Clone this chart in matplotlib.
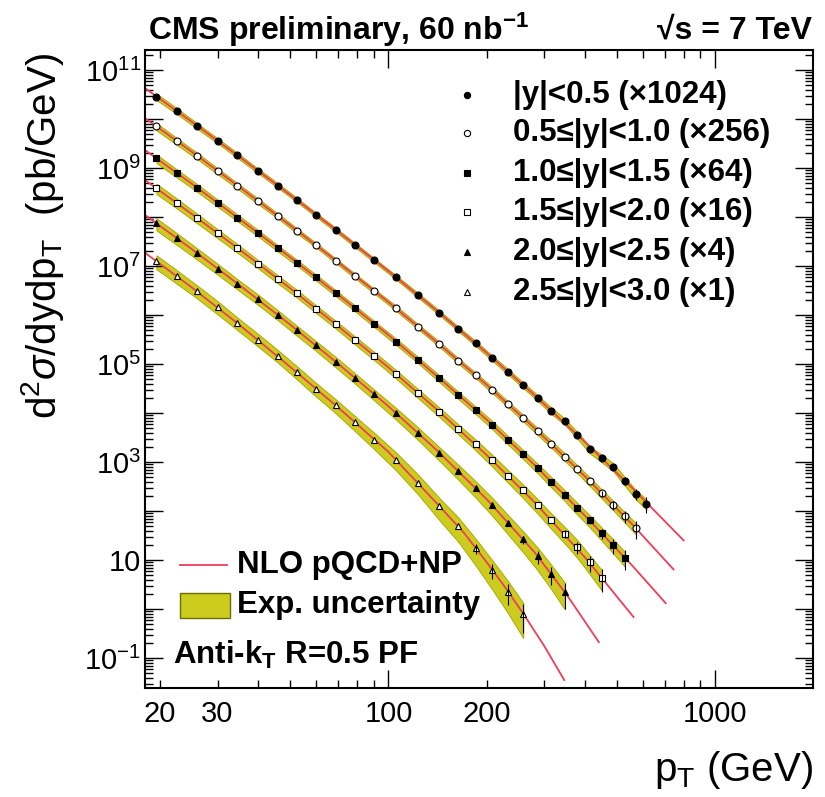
import numpy as np
import matplotlib.pyplot as plt
from matplotlib.ticker import FixedLocator, FuncFormatter, NullFormatter

plt.rcParams['font.family'] = ['Liberation Sans', 'DejaVu Sans']
plt.rcParams['mathtext.fontset'] = 'custom'
plt.rcParams['mathtext.rm'] = 'Liberation Sans'
plt.rcParams['mathtext.it'] = 'Liberation Sans:italic'
plt.rcParams['mathtext.bf'] = 'Liberation Sans:bold'

# jet pT bin centres (GeV)
pt_bins = [19.5, 22.5, 26, 30, 34.5, 40, 46, 52.5, 60, 69, 79, 90.5, 105.5,
           123.5, 143, 163.5, 185, 208, 232.5, 258.5, 286, 315, 346, 378.5,
           412.5, 449, 487.5, 527.5, 570, 615]

# measured log10(d2sigma/dy dpT x scale) per rapidity bin
meas_y0 = [10.46, 10.17, 9.86, 9.56, 9.26, 8.94, 8.64, 8.35, 8.05, 7.74, 7.43,
           7.12, 6.77, 6.40, 6.05, 5.72, 5.42, 5.12, 4.84, 4.57, 4.31, 4.05,
           3.83, 3.55, 3.26, 3.08, 2.90, 2.62, 2.35, 2.15]
meas_y1 = [9.85, 9.55, 9.25, 8.94, 8.64, 8.32, 8.02, 7.72, 7.43, 7.11, 6.80,
           6.49, 6.14, 5.76, 5.41, 5.07, 4.77, 4.47, 4.18, 3.90, 3.63, 3.37,
           3.11, 2.86, 2.61, 2.36, 2.12, 1.89, 1.66]
meas_y2 = [9.20, 8.90, 8.60, 8.29, 7.99, 7.67, 7.36, 7.07, 6.77, 6.45, 6.14,
           5.82, 5.46, 5.08, 4.71, 4.37, 4.06, 3.76, 3.45, 3.16, 2.88, 2.60,
           2.33, 2.06, 1.81, 1.55, 1.30, 1.05]
meas_y3 = [8.59, 8.29, 7.98, 7.67, 7.37, 7.04, 6.73, 6.44, 6.13, 5.81, 5.49,
           5.17, 4.80, 4.40, 4.03, 3.68, 3.36, 3.04, 2.72, 2.42, 2.12, 1.82,
           1.54, 1.26, 0.95, 0.64]
meas_y4 = [7.87, 7.57, 7.26, 6.95, 6.64, 6.32, 6.00, 5.69, 5.38, 5.05, 4.72,
           4.38, 4.00, 3.59, 3.19, 2.82, 2.47, 2.12, 1.76, 1.42, 1.08, 0.72,
           0.35]
meas_y5 = [7.10, 6.80, 6.49, 6.17, 5.84, 5.50, 5.17, 4.84, 4.50, 4.16, 3.81,
           3.46, 3.05, 2.58, 2.10, 1.69, 1.24, 0.79, 0.35, -0.10]

# experimental uncertainty (%) per bin
unc_y0 = [15, 14, 13, 12, 12, 11, 11, 10, 10, 10, 10, 10, 10, 11, 11, 11, 12,
          12, 13, 13, 14, 15, 15, 16, 17, 18, 19, 20, 22, 24]
unc_y1 = [17, 16, 15, 14, 13, 13, 12, 12, 11, 11, 11, 11, 12, 12, 12, 13, 13,
          14, 14, 15, 16, 17, 18, 19, 20, 21, 22, 24, 26]
unc_y2 = [20, 19, 18, 17, 16, 15, 15, 14, 14, 14, 14, 14, 15, 15, 16, 17, 18,
          19, 20, 21, 22, 24, 25, 27, 28, 30, 32, 34]
unc_y3 = [24, 23, 22, 21, 20, 19, 19, 18, 18, 18, 19, 19, 20, 21, 22, 23, 25,
          27, 29, 31, 33, 35, 37, 40, 42, 45]
unc_y4 = [28, 27, 26, 25, 24, 24, 23, 23, 23, 24, 24, 25, 27, 29, 31, 34, 37,
          40, 43, 46, 49, 52, 56]
unc_y5 = [32, 31, 30, 30, 29, 29, 29, 30, 31, 32, 34, 37, 40, 44, 48, 52, 56,
          60, 64, 68]

# statistical errors (%) on the highest-pT points of each bin
stat_y0 = [12, 18, 25, 35]
stat_y1 = [14, 20, 28, 40]
stat_y2 = [16, 24, 32, 45]
stat_y3 = [18, 26, 36, 50]
stat_y4 = [20, 30, 40, 55]
stat_y5 = [22, 32, 45, 60]

# NLO pQCD + NP prediction, log10 values at pT nodes
nlo_pt_y0 = [18, 25, 35, 50, 70, 100, 140, 200, 280, 400, 560, 800]
nlo_y0 = [10.63, 9.945, 9.229, 8.454, 7.709, 6.896, 6.100, 5.225, 4.363, 3.403, 2.453, 1.400]
nlo_pt_y1 = [18, 25, 35, 50, 70, 100, 140, 200, 280, 400, 560, 745]
nlo_y1 = [10.018, 9.333, 8.612, 7.832, 7.082, 6.264, 5.458, 4.573, 3.691, 2.701, 1.711, 0.808]
nlo_pt_y2 = [18, 25, 35, 50, 70, 100, 140, 200, 280, 400, 560, 705]
nlo_y2 = [9.366, 8.681, 7.960, 7.180, 6.420, 5.592, 4.766, 3.861, 2.939, 1.899, 0.869, 0.119]
nlo_pt_y3 = [18, 25, 35, 50, 70, 100, 140, 200, 280, 400, 562]
nlo_y3 = [8.754, 8.064, 7.338, 6.548, 5.778, 4.930, 4.084, 3.139, 2.177, 1.047, -0.163]
nlo_pt_y4 = [18, 25, 35, 50, 70, 100, 140, 200, 280, 350, 440]
nlo_y4 = [8.042, 7.347, 6.611, 5.806, 5.011, 4.138, 3.252, 2.237, 1.155, 0.304, -0.674]
nlo_pt_y5 = [18, 25, 35, 50, 70, 100, 140, 170, 200, 230, 260, 300, 345]
nlo_y5 = [7.27, 6.565, 5.799, 4.944, 4.119, 3.206, 2.170, 1.56, 0.95, 0.40, -0.12, -0.76, -1.45]

labels = ['|y|<0.5 (\u00d71024)', '0.5\u2264|y|<1.0 (\u00d7256)',
          '1.0\u2264|y|<1.5 (\u00d764)', '1.5\u2264|y|<2.0 (\u00d716)',
          '2.0\u2264|y|<2.5 (\u00d74)', '2.5\u2264|y|<3.0 (\u00d71)']
markers = [('o', 'k'), ('o', 'w'), ('s', 'k'), ('s', 'w'), ('^', 'k'), ('^', 'w')]

meas = [meas_y0, meas_y1, meas_y2, meas_y3, meas_y4, meas_y5]
unc = [unc_y0, unc_y1, unc_y2, unc_y3, unc_y4, unc_y5]
stat = [stat_y0, stat_y1, stat_y2, stat_y3, stat_y4, stat_y5]
nlo_pt = [nlo_pt_y0, nlo_pt_y1, nlo_pt_y2, nlo_pt_y3, nlo_pt_y4, nlo_pt_y5]
nlo = [nlo_y0, nlo_y1, nlo_y2, nlo_y3, nlo_y4, nlo_y5]

band_col = '#cccc1e'
band_edge = '#a8a000'
nlo_col = '#ee3d5a'

fig = plt.figure(figsize=(8.25, 7.97), dpi=100)
ax = fig.add_axes([0.1758, 0.1368, 0.8097, 0.8005])
ax.set_xscale('log')
ax.set_yscale('log')

for i in range(6):
    n = len(meas[i])
    x = np.array(pt_bins[:n])
    y = 10.0 ** np.array(meas[i])
    u = np.array(unc[i]) / 100.0
    ax.fill_between(x, y * (1 - u), y * (1 + u), facecolor=band_col,
                    edgecolor=band_edge, linewidth=0.6, zorder=1)
    ax.plot(nlo_pt[i], 10.0 ** np.array(nlo[i]), color=nlo_col, lw=1.3, zorder=2)
    m, fc = markers[i]
    ax.plot(x, y, ls='none', marker=m, ms=5, mfc=fc, mec='k', mew=0.8, zorder=3)
    k = len(stat[i])
    e = np.array(stat[i]) / 100.0
    ax.errorbar(x[-k:], y[-k:], yerr=y[-k:] * e, fmt='none', ecolor='k',
                elinewidth=0.8, capsize=0, zorder=3)

ax.set_xlim(18, 1990)
ax.set_ylim(0.0245, 2.57e11)

# ticks drawn inside on all four sides
ax.tick_params(which='both', direction='in', top=True, right=True, width=1.0)
ax.tick_params(which='major', length=13, labelsize=21)
ax.tick_params(which='minor', length=6, labelsize=21)
ax.tick_params(axis='x', which='both', pad=9)
ax.tick_params(axis='y', which='both', pad=3)

ax.xaxis.set_major_locator(FixedLocator([100, 1000]))
ax.xaxis.set_major_formatter(FuncFormatter(lambda v, p: '%d' % v))
xminor = [v * d for d in (10, 100) for v in range(2, 10)] + [2000]
ax.xaxis.set_minor_locator(FixedLocator(xminor))
ax.xaxis.set_minor_formatter(FuncFormatter(
    lambda v, p: '%d' % v if int(round(v)) in (20, 30, 200) else ''))


def ylab(v, p):
    k = int(round(np.log10(v)))
    if k % 2 == 0:
        return ''
    if k == 1:
        return '10'
    return r'$10^{%d}$' % k


ax.yaxis.set_major_locator(FixedLocator([10.0 ** k for k in range(-1, 12)]))
ax.yaxis.set_major_formatter(FuncFormatter(ylab))
ax.yaxis.set_minor_locator(FixedLocator(
    [d * 10.0 ** k for k in range(-2, 12) for d in range(2, 10)]))
ax.yaxis.set_minor_formatter(NullFormatter())

for s in ax.spines.values():
    s.set_linewidth(1.5)

# axis titles
ax.text(-0.154, 0.995, r'd$^{2}\sigma$/dydp$_{\mathrm{T}}$  (pb/GeV)', rotation=90,
        ha='center', va='top', fontsize=29, transform=ax.transAxes)
ax.text(1.0, -0.128, r'p$_{\mathrm{T}}$ (GeV)', ha='right', va='center',
        fontsize=29, transform=ax.transAxes)

ax.text(0.004, 1.031, r'CMS preliminary, 60 nb$^{\mathbf{-1}}$', ha='left',
        va='center', fontsize=23, fontweight='bold', transform=ax.transAxes)
ax.text(0.998, 1.031, '\u221As = 7 TeV', ha='right', va='center',
        fontsize=23, fontweight='bold', transform=ax.transAxes)


def ax_y(px):
    return (688 - px) / 638


def ax_x(px):
    return (px - 145) / 668


# rapidity legend
rows_px = [95, 133, 173, 212, 252, 292]
for i in range(6):
    m, fc = markers[i]
    ax.plot([ax_x(467)], [ax_y(rows_px[i])], ls='none', marker=m, ms=4.5,
            mfc=fc, mec='k', mew=0.8, transform=ax.transAxes, clip_on=False)
    ax.text(ax_x(513), ax_y(rows_px[i]), labels[i], ha='left', va='center',
            fontsize=22.5, fontweight='bold', transform=ax.transAxes)

# theory / uncertainty legend
ax.plot([ax_x(180), ax_x(227)], [ax_y(565), ax_y(565)], color=nlo_col, lw=1.3,
        transform=ax.transAxes)
ax.text(ax_x(237), ax_y(565), 'NLO pQCD+NP', ha='left', va='center',
        fontsize=22.5, fontweight='bold', transform=ax.transAxes)
ax.add_patch(plt.Rectangle((ax_x(180), ax_y(618)), ax_x(230) - ax_x(180),
                           ax_y(593) - ax_y(618), facecolor=band_col,
                           edgecolor='#6e6e00', lw=1.0, transform=ax.transAxes))
ax.text(ax_x(237), ax_y(605), 'Exp. uncertainty', ha='left', va='center',
        fontsize=22.5, fontweight='bold', transform=ax.transAxes)
ax.text(ax_x(173), ax_y(655), r'Anti-k$_{\mathbf{T}}$ R=0.5 PF', ha='left',
        va='center', fontsize=22.5, fontweight='bold', transform=ax.transAxes)

fig.savefig('out.png', dpi=100)
